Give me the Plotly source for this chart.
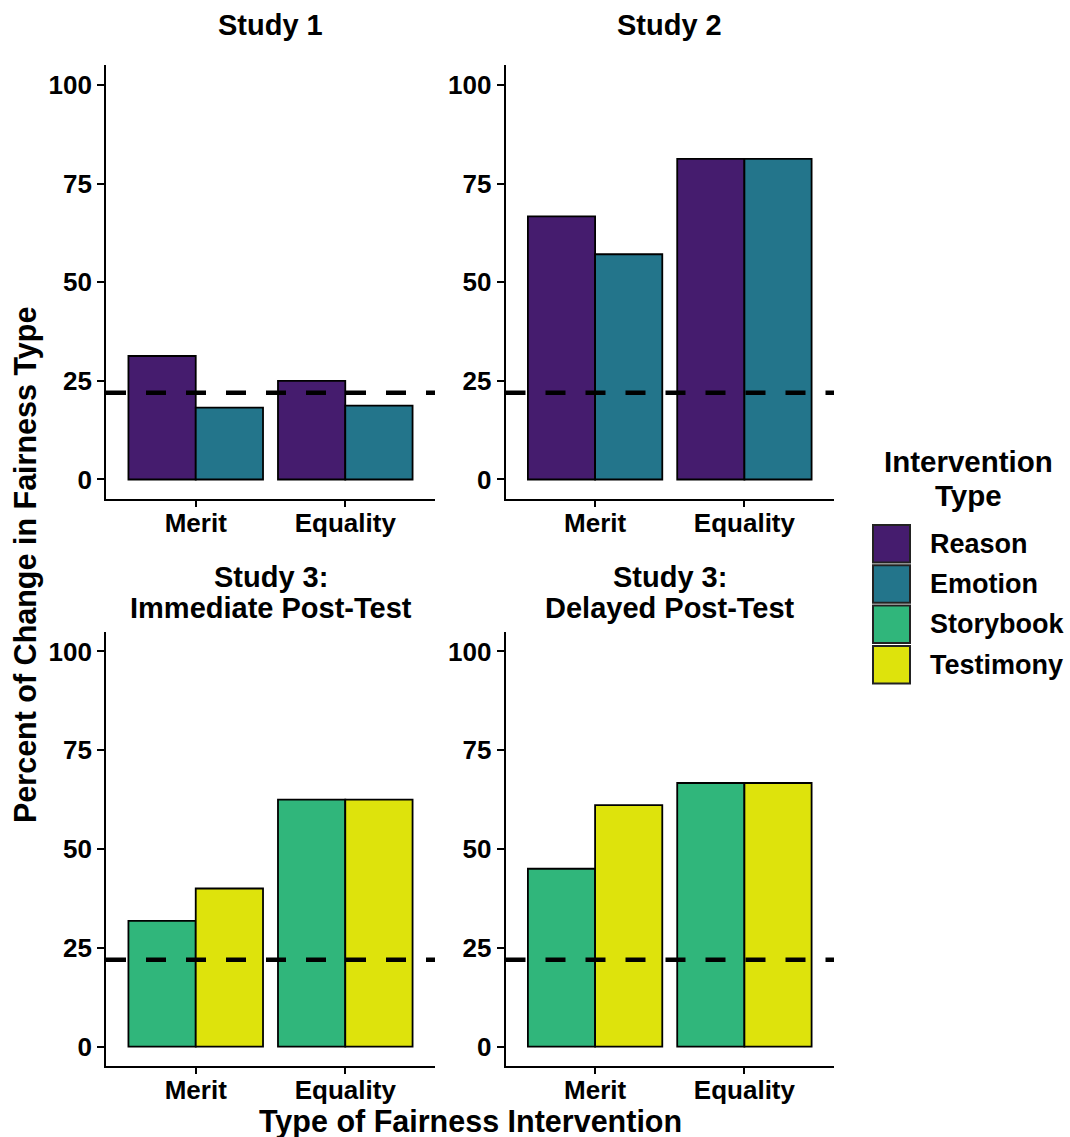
import plotly.graph_objects as go

# ---------------- data ----------------
fairness_types = ["Merit", "Equality"]
intervention_types = ["Reason", "Emotion", "Storybook", "Testimony"]
intervention_colors = ["#451c6e", "#23758b", "#30b67b", "#dee30c"]

study1_reason = [31.3, 25.0]
study1_emotion = [18.2, 18.7]
study2_reason = [66.7, 81.3]
study2_emotion = [57.1, 81.3]
study3_immediate_storybook = [31.8, 62.5]
study3_immediate_testimony = [40.0, 62.5]
study3_delayed_storybook = [45.0, 66.7]
study3_delayed_testimony = [61.1, 66.7]

chance_level = 22.0
y_ticks = [0, 25, 50, 75, 100]

panel_titles = [
    ["Study 1"],
    ["Study 2"],
    ["Study 3:", "Immediate Post-Test"],
    ["Study 3:", "Delayed Post-Test"],
]
y_title = "Percent of Change in Fairness Type"
x_title = "Type of Fairness Intervention"
legend_title = ["Intervention", "Type"]

# ---------------- layout helpers ----------------
W, H = 1070, 1137
FONT = "Liberation Sans, Arial, sans-serif"


def px(x):
    return x / W


def py(y):
    return 1 - y / H


col_dom = [(106, 435), (505.5, 834)]
row_dom = [(65.3, 499.2), (631.7, 1066.3)]

panels = [
    (study1_reason, study1_emotion, 0, 1),
    (study2_reason, study2_emotion, 0, 1),
    (study3_immediate_storybook, study3_immediate_testimony, 2, 3),
    (study3_delayed_storybook, study3_delayed_testimony, 2, 3),
]

fig = go.Figure()
layout = dict(
    width=W,
    height=H,
    margin=dict(l=0, r=0, t=0, b=0),
    paper_bgcolor="white",
    plot_bgcolor="white",
    barmode="group",
    bargap=0.1,
    bargroupgap=0,
    showlegend=False,
    font=dict(family=FONT, color="black"),
)

shapes = []
annotations = []

for i, (a_vals, b_vals, ia, ib) in enumerate(panels):
    r, c = divmod(i, 2)
    suffix = "" if i == 0 else str(i + 1)
    xa, ya = "x" + suffix, "y" + suffix
    for vals, idx in ((a_vals, ia), (b_vals, ib)):
        fig.add_trace(
            go.Bar(
                x=fairness_types,
                y=vals,
                name=intervention_types[idx],
                marker=dict(color=intervention_colors[idx], line=dict(color="black", width=1.8)),
                xaxis=xa,
                yaxis=ya,
                showlegend=False,
            )
        )
    layout["xaxis" + suffix] = dict(
        domain=[px(col_dom[c][0]), px(col_dom[c][1])],
        anchor=ya,
        type="category",
        range=[-0.6, 1.6],
        showline=True,
        linecolor="black",
        linewidth=1.8,
        ticks="outside",
        ticklen=6,
        tickwidth=1.8,
        tickcolor="black",
        ticklabelstandoff=-6,
        showgrid=False,
        zeroline=False,
        tickfont=dict(family=FONT, size=26, color="black", weight="bold"),
        fixedrange=True,
    )
    layout["yaxis" + suffix] = dict(
        domain=[py(row_dom[r][1]), py(row_dom[r][0])],
        anchor=xa,
        range=[-5, 105],
        tickvals=y_ticks,
        showline=True,
        linecolor="black",
        linewidth=1.8,
        ticks="outside",
        ticklen=7,
        tickwidth=1.8,
        tickcolor="black",
        showgrid=False,
        zeroline=False,
        tickfont=dict(family=FONT, size=26, color="black", weight="bold"),
        fixedrange=True,
    )
    shapes.append(
        dict(
            type="line",
            xref=xa + " domain",
            yref=ya,
            x0=0,
            x1=1,
            y0=chance_level,
            y1=chance_level,
            line=dict(color="black", width=4.5, dash="20px,20px"),
            layer="above",
        )
    )
    # panel titles
    cx = (col_dom[c][0] + col_dom[c][1]) / 2
    lines = panel_titles[i]
    if len(lines) == 1:
        ys = [25]
    else:
        ys = [577, 608]
    for txt, yy in zip(lines, ys):
        annotations.append(
            dict(
                text=txt,
                x=px(cx),
                y=py(yy),
                xref="paper",
                yref="paper",
                xanchor="center",
                yanchor="middle",
                showarrow=False,
                font=dict(family=FONT, size=29, color="black", weight="bold"),
            )
        )

# axis titles
annotations.append(
    dict(
        text=y_title,
        x=px(25),
        y=py(565),
        xref="paper",
        yref="paper",
        xanchor="center",
        yanchor="middle",
        textangle=-90,
        showarrow=False,
        font=dict(family=FONT, size=30.5, color="black", weight="bold"),
    )
)
annotations.append(
    dict(
        text=x_title,
        x=px(470),
        y=py(1121),
        xref="paper",
        yref="paper",
        xanchor="center",
        yanchor="middle",
        showarrow=False,
        font=dict(family=FONT, size=30.5, color="black", weight="bold"),
    )
)

# legend (drawn manually to match the large ggplot keys)
for txt, yy in zip(legend_title, [462, 495]):
    annotations.append(
        dict(
            text=txt,
            x=px(968),
            y=py(yy),
            xref="paper",
            yref="paper",
            xanchor="center",
            yanchor="middle",
            showarrow=False,
            font=dict(family=FONT, size=29.5, color="black", weight="bold"),
        )
    )
key_top = 525
key_step = 40.3
key_h = 37.5
for k, (name, col) in enumerate(zip(intervention_types, intervention_colors)):
    y0 = key_top + k * key_step
    shapes.append(
        dict(
            type="rect",
            xref="paper",
            yref="paper",
            x0=px(873),
            x1=px(910),
            y0=py(y0 + key_h),
            y1=py(y0),
            fillcolor=col,
            line=dict(color="#222222", width=2),
        )
    )
    annotations.append(
        dict(
            text=name,
            x=px(928),
            y=py(y0 + key_h / 2),
            xref="paper",
            yref="paper",
            xanchor="left",
            yanchor="middle",
            showarrow=False,
            font=dict(family=FONT, size=27, color="black", weight="bold"),
        )
    )

layout["shapes"] = shapes
layout["annotations"] = annotations
fig.update_layout(**layout)

fig.write_html(
    "out.html",
    config={"displayModeBar": False},
    post_script="document.body.style.margin='0px';document.body.style.overflow='hidden';",
)
